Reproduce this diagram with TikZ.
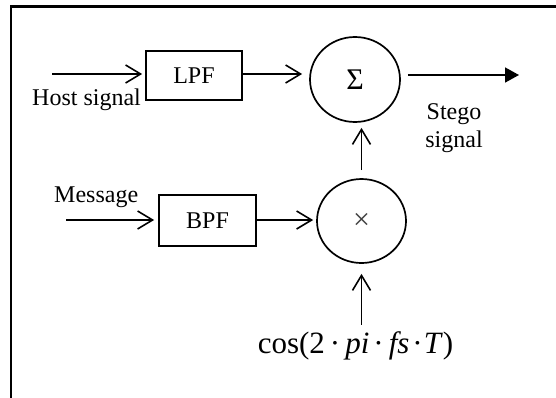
\documentclass[tikz,border=0pt]{standalone}
\usepackage{fontspec}
\setmainfont{Liberation Serif}
\usetikzlibrary{arrows.meta,shapes.geometric}
\begin{document}
\begin{tikzpicture}[x=1pt,y=-1pt,
  lbl/.style={font=\fontsize{24}{28}\selectfont, inner sep=0pt},
  blockbox/.style={draw, line width=1.7pt, minimum width=96pt, minimum height=49pt, font=\fontsize{24}{28}\selectfont, inner sep=0pt},
  opnode/.style={draw, ellipse, line width=1.7pt, inner sep=0pt},
  conn/.style={line width=1.6pt, -{Straight Barb[length=15pt,width=18pt]}},
  outconn/.style={line width=1.6pt, -{Triangle[length=14pt,width=15pt]}},
  frameline/.style={line width=2.6pt}]
\useasboundingbox (0,0) rectangle (556,397);
\clip (0,0) rectangle (556,397);
% frame
\draw[frameline] (11,420) |- (590,6.5);
% blocks
\node[blockbox] (lpf) at (194,75.5) {LPF};
\node[blockbox, minimum width=97pt, minimum height=51pt] (bpf) at (207.5,220.5) {BPF};
\node[opnode, minimum width=90pt, minimum height=85pt, font=\fontsize{30}{32}\selectfont] (sum) at (355,79.5) {Σ};
\node[opnode, minimum width=89pt, minimum height=84pt, font=\fontsize{30}{32}\selectfont, text=black!75] (mul) at (361.5,221) {×};
% labels
\node[lbl, anchor=base west] (host) at (32,105) {Host signal};
\node[lbl, anchor=base west] (msg) at (54,202) {Message};
\node[lbl, anchor=north, align=center] (stego) at (454,103) {Stego\\signal};
\node[inner sep=0pt, anchor=base, font=\fontsize{31}{34}\selectfont] (cosT) at (355.5,353)
  {cos(2\kern5pt·\kern5pt\textit{pi}\kern4pt·\kern5pt\textit{fs}\kern3pt·\kern1pt\textit{T})};
% free ends
\coordinate (hostin) at (52,74);
\coordinate (msgin) at (66,220);
\coordinate (outend) at (519,75);
% connectors
\draw[conn, shorten >=3pt] (hostin) -- (hostin -| lpf.west);
\draw[conn, shorten >=7pt] (lpf.east |- hostin) -- (hostin -| sum.west);
\draw[outconn, shorten <=7pt] (outend -| sum.east) -- (outend);
\draw[conn, shorten >=4pt] (msgin) -- (msgin -| bpf.west);
\draw[conn, shorten >=3pt] (bpf.east |- msgin) -- (msgin -| mul.west);
\draw[conn, shorten <=8pt, shorten >=5pt] (mul.north) -- (mul.north |- sum.south);
\draw[conn, shorten <=6pt, shorten >=10pt] (cosT.north -| mul.south) -- (mul.south);
\end{tikzpicture}
\end{document}
